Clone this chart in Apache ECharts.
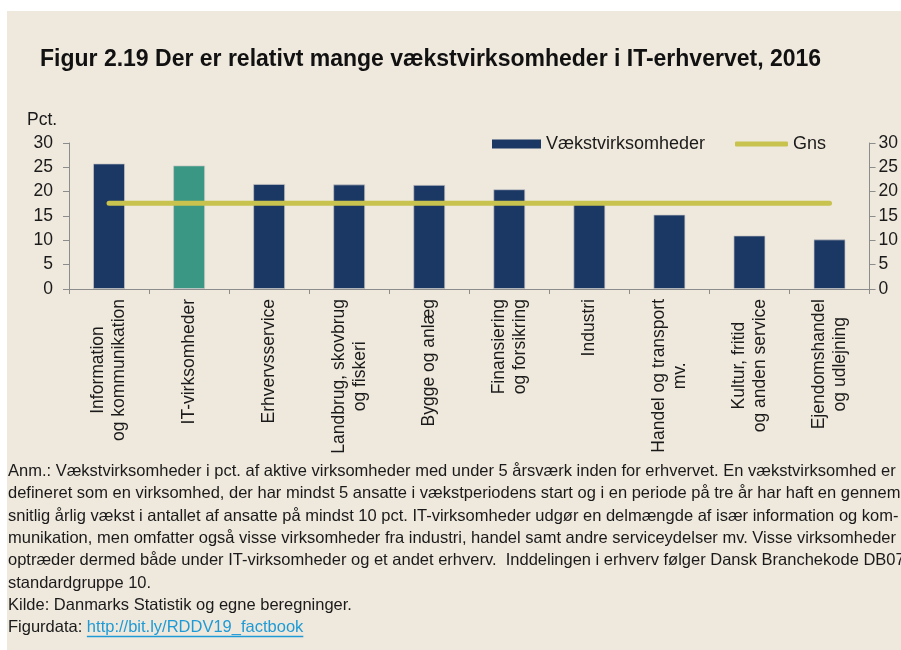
<!DOCTYPE html>
<html>
<head>
<meta charset="utf-8">
<script src="https://cdn.jsdelivr.net/npm/echarts@6/dist/echarts.min.js"></script>
<style>
  html, body { margin: 0; padding: 0; background: #ffffff; }
  #chart { width: 901px; height: 650px; }
</style>
</head>
<body>
<div id="chart"></div>
<script>
const categories = [
  'Information\nog kommunikation',
  'IT-virksomheder',
  'Erhvervsservice',
  'Landbrug, skovbrug\nog fiskeri',
  'Bygge og anlæg',
  'Finansiering\nog forsikring',
  'Industri',
  'Handel og transport\nmv.',
  'Kultur, fritid\nog anden service',
  'Ejendomshandel\nog udlejning'
];
const growthShare = [25.8, 25.4, 21.6, 21.5, 21.4, 20.5, 17.6, 15.3, 11.0, 10.2];
const average = [17.6, 17.6, 17.6, 17.6, 17.6, 17.6, 17.6, 17.6, 17.6, 17.6];
const highlightIndex = 1;
const yTicks = [0, 5, 10, 15, 20, 25, 30];

const noteLines = [
  'Anm.: Vækstvirksomheder i pct. af aktive virksomheder med under 5 årsværk inden for erhvervet. En vækstvirksomhed er',
  'defineret som en virksomhed, der har mindst 5 ansatte i vækstperiodens start og i en periode på tre år har haft en gennem-',
  'snitlig årlig vækst i antallet af ansatte på mindst 10 pct. IT-virksomheder udgør en delmængde af især information og kom-',
  'munikation, men omfatter også visse virksomheder fra industri, handel samt andre serviceydelser mv. Visse virksomheder',
  'optræder dermed både under IT-virksomheder og et andet erhverv.  Inddelingen i erhverv følger Dansk Branchekode DB07',
  'standardgruppe 10.',
  'Kilde: Danmarks Statistik og egne beregninger.'
];
const linkLabel = 'Figurdata: ';
const linkText = 'http://bit.ly/RDDV19_factbook';

const NAVY = '#1b3764';
const TEAL = '#3a9783';
const OLIVE = '#c8c24e';
const LINK = '#1e9bd7';
const INK = '#1a1a1a';
const AXIS = '#8c8c8c';
const FONT = 'Liberation Sans, Arial, sans-serif';
const NOTE_SIZE = 16.5;
const NOTE_TOP = 463;
const NOTE_STEP = 22.3;

// measure the link so the underline fits the text
const ctx = document.createElement('canvas').getContext('2d');
ctx.font = NOTE_SIZE + 'px ' + FONT;
const linkX = 8 + ctx.measureText(linkLabel).width;
const linkW = ctx.measureText(linkText).width;
const linkY = NOTE_TOP + noteLines.length * NOTE_STEP;

const chart = echarts.init(document.getElementById('chart'), null, { renderer: 'canvas' });

const noteGraphics = noteLines.map((line, i) => ({
  type: 'text',
  left: 8,
  top: NOTE_TOP + i * NOTE_STEP,
  style: { text: line, fontSize: NOTE_SIZE, fontFamily: FONT, fill: INK }
}));

const yAxisCommon = {
  type: 'value',
  min: yTicks[0],
  max: yTicks[yTicks.length - 1],
  interval: 5,
  splitLine: { show: false },
  axisLine: { show: true, lineStyle: { color: AXIS, width: 1 } },
  axisTick: { show: true, length: 6, lineStyle: { color: AXIS } }
};

const option = {
  backgroundColor: '#ffffff',
  animation: false,
  graphic: [
    {
      type: 'rect',
      left: 7,
      top: 11,
      z: -10,
      shape: { width: 894, height: 639 },
      style: { fill: '#efe8dc' }
    },
    {
      type: 'text',
      left: 40,
      top: 48,
      style: {
        text: 'Figur 2.19 Der er relativt mange vækstvirksomheder i IT-erhvervet, 2016',
        fontSize: 23, fontWeight: 'bold', fontFamily: FONT, fill: '#111'
      }
    },
    {
      type: 'text',
      left: 27,
      top: 111,
      style: { text: 'Pct.', fontSize: 17.5, fontFamily: FONT, fill: INK }
    },
    ...noteGraphics,
    {
      type: 'text',
      left: 8,
      top: linkY,
      style: {
        text: '{a|' + linkLabel + '}{l|' + linkText + '}',
        fontSize: NOTE_SIZE, fontFamily: FONT,
        rich: {
          a: { fontSize: NOTE_SIZE, fontFamily: FONT, fill: INK },
          l: { fontSize: NOTE_SIZE, fontFamily: FONT, fill: LINK }
        }
      }
    },
    {
      type: 'line',
      shape: { x1: linkX, y1: linkY + 17.5, x2: linkX + linkW, y2: linkY + 17.5 },
      style: { stroke: LINK, lineWidth: 1.5 }
    }
  ],
  legend: [
    {
      data: ['Vækstvirksomheder'],
      left: 492,
      top: 135,
      padding: 0,
      icon: 'rect',
      itemWidth: 49,
      itemHeight: 9,
      itemStyle: { borderWidth: 0 },
      textStyle: { fontSize: 18, fontFamily: FONT, color: INK },
      selectedMode: false
    },
    {
      data: ['Gns'],
      left: 735,
      top: 135,
      padding: 0,
      icon: 'roundRect',
      itemWidth: 53,
      itemHeight: 5,
      itemStyle: { color: OLIVE, borderRadius: 3 },
      textStyle: { fontSize: 18, fontFamily: FONT, color: INK },
      selectedMode: false
    }
  ],
  grid: { left: 69, right: 28, top: 143, bottom: 361, containLabel: false },
  xAxis: {
    type: 'category',
    data: categories,
    boundaryGap: true,
    axisLine: { show: true, lineStyle: { color: AXIS, width: 1 } },
    axisTick: { show: true, interval: 0, length: 5, lineStyle: { color: AXIS } },
    axisLabel: {
      interval: 0,
      rotate: 90,
      margin: 10,
      fontSize: 17.5,
      fontFamily: FONT,
      color: INK,
      lineHeight: 21,
      formatter: (v) => v.split('\n').map(s => '{c|' + s + '}').join('\n'),
      rich: {
        c: { fontSize: 17.5, fontFamily: FONT, color: INK, lineHeight: 21, align: 'center' }
      }
    }
  },
  yAxis: [
    Object.assign({}, yAxisCommon, {
      position: 'left',
      axisLabel: { fontSize: 17.5, fontFamily: FONT, color: INK, margin: 16 }
    }),
    Object.assign({}, yAxisCommon, {
      position: 'right',
      axisLabel: { fontSize: 17.5, fontFamily: FONT, color: INK, margin: 9 }
    })
  ],
  series: [
    {
      name: 'Vækstvirksomheder',
      type: 'bar',
      barWidth: 32,
      data: growthShare.map((v, i) => ({
        value: v,
        itemStyle: { color: i === highlightIndex ? TEAL : NAVY }
      })),
      itemStyle: { color: NAVY, borderColor: 'rgba(200,200,200,0.7)', borderWidth: 1 },
      z: 2
    },
    {
      name: 'Gns',
      type: 'line',
      data: average,
      symbol: 'none',
      lineStyle: { color: OLIVE, width: 5, cap: 'round' },
      itemStyle: { color: OLIVE },
      z: 3
    }
  ]
};

chart.setOption(option);
</script>
</body>
</html>
